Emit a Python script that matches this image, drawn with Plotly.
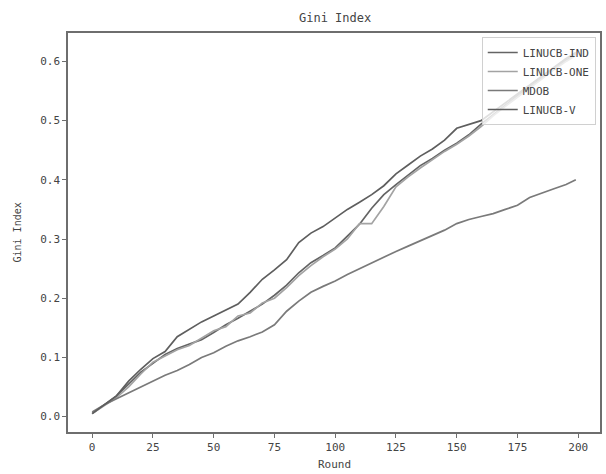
import plotly.graph_objects as go

rounds = [0, 5, 10, 15, 20, 25, 30, 35, 40, 45, 50, 55, 60, 65, 70, 75, 80, 85, 90, 95,
          100, 105, 110, 115, 120, 125, 130, 135, 140, 145, 150, 155, 160, 165, 170, 175,
          180, 185, 190, 195, 199]

linucb_ind = [0.005, 0.02, 0.035, 0.055, 0.075, 0.09, 0.105, 0.115, 0.122, 0.13, 0.142,
              0.155, 0.166, 0.178, 0.19, 0.205, 0.222, 0.243, 0.26, 0.272, 0.285, 0.305,
              0.325, 0.352, 0.375, 0.392, 0.408, 0.424, 0.436, 0.45, 0.462, 0.476, 0.494,
              0.51, 0.527, 0.542, 0.557, 0.572, 0.588, 0.602, 0.612]
linucb_one = [0.005, 0.018, 0.032, 0.05, 0.072, 0.092, 0.103, 0.113, 0.12, 0.133, 0.145,
              0.152, 0.17, 0.175, 0.192, 0.2, 0.218, 0.238, 0.255, 0.27, 0.283, 0.3,
              0.326, 0.326, 0.355, 0.388, 0.405, 0.42, 0.434, 0.448, 0.46, 0.474, 0.49,
              0.508, 0.524, 0.54, 0.555, 0.57, 0.586, 0.6, 0.61]
mdob = [0.008, 0.02, 0.03, 0.04, 0.05, 0.06, 0.07, 0.078, 0.088, 0.1, 0.108, 0.119, 0.128,
        0.135, 0.143, 0.155, 0.178, 0.195, 0.21, 0.22, 0.229, 0.24, 0.25, 0.26, 0.27, 0.279,
        0.288, 0.297, 0.305, 0.315, 0.326, 0.333, 0.338, 0.343, 0.35, 0.357, 0.37, 0.378,
        0.385, 0.392, 0.40]
linucb_v = [0.005, 0.02, 0.035, 0.06, 0.08, 0.098, 0.11, 0.135, 0.148, 0.16, 0.17, 0.18,
            0.19, 0.21, 0.232, 0.248, 0.265, 0.294, 0.31, 0.321, 0.335, 0.35, 0.362, 0.375,
            0.39, 0.41, 0.425, 0.44, 0.452, 0.467, 0.487, 0.493, 0.50, 0.515, 0.53, 0.545,
            0.56, 0.575, 0.59, 0.605, 0.615]

series = [
    ("LINUCB-IND", linucb_ind, "#646464"),
    ("LINUCB-ONE", linucb_one, "#a3a3a3"),
    ("MDOB", mdob, "#7a7a7a"),
    ("LINUCB-V", linucb_v, "#5e5e5e"),
]

fig = go.Figure()
for name, vals, color in series:
    fig.add_trace(go.Scatter(x=rounds, y=vals, mode="lines", name=name,
                             line=dict(color=color, width=1.7)))

font = "DejaVu Sans Mono"
axis_common = dict(showgrid=False, zeroline=False, showline=True, linecolor="#6e6e6e",
                   linewidth=1.5, mirror=True, ticks="outside", ticklen=4, tickwidth=1,
                   tickcolor="#6e6e6e", automargin=False,
                   tickfont=dict(family=font, size=11, color="#444"))

fig.update_layout(
    width=606, height=474,
    margin=dict(l=68, r=6, t=33, b=42, autoexpand=False),
    paper_bgcolor="white", plot_bgcolor="white",
    title=dict(text="Gini Index", x=0.553, xanchor="center", y=0.962, yanchor="middle",
               font=dict(family=font, size=12, color="#444")),
    xaxis=dict(range=[-9.95, 208.95], tickvals=[0, 25, 50, 75, 100, 125, 150, 175, 200],
               **axis_common),
    yaxis=dict(range=[-0.026, 0.648], tickvals=[0, 0.1, 0.2, 0.3, 0.4, 0.5, 0.6], tickformat=".1f",
               **axis_common),
    legend=dict(x=0.992, xanchor="right", y=0.99, yanchor="top",
                bgcolor="rgba(255,255,255,0.8)", bordercolor="#d0d0d0", borderwidth=1,
                font=dict(family=font, size=11, color="#444"), tracegroupgap=0),
    showlegend=True,
    annotations=[
        dict(text="Round", xref="paper", yref="paper", x=0.5, y=-0.082, xanchor="center",
             yanchor="middle", showarrow=False, font=dict(family=font, size=11, color="#444")),
        dict(text="Gini Index", xref="paper", yref="paper", x=-0.094, y=0.5, xanchor="center",
             yanchor="middle", textangle=-90, showarrow=False,
             font=dict(family=font, size=10, color="#444")),
    ],
)

fig.write_html("out.html", config={"displayModeBar": False},
               post_script="document.body.style.margin='0';document.body.style.overflow='hidden';")
